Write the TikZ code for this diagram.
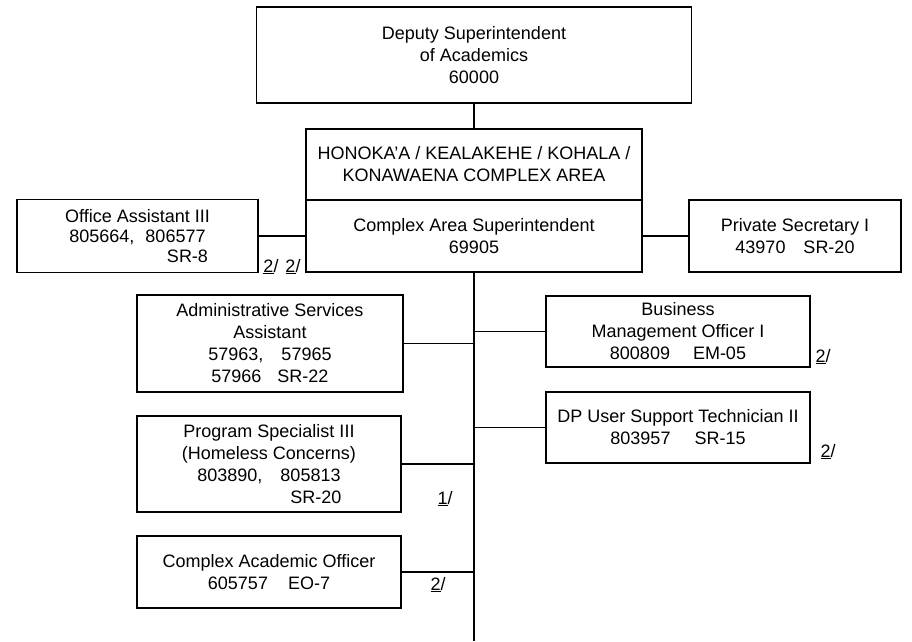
\documentclass[tikz,border=0pt]{standalone}
\usepackage{fontspec}
\setmainfont{Liberation Sans}
\usetikzlibrary{positioning}

\begin{document}
\begin{tikzpicture}[
  x=1pt, y=-1pt,
  box/.style={draw, line width=1.8pt, outer sep=0pt, inner sep=2pt, align=center, font=\fontsize{18}{22}\selectfont},
  link/.style={line width=1.8pt},
  note/.style={inner sep=0pt, anchor=base, font=\fontsize{18}{22}\selectfont}
]
\useasboundingbox (0,0) rectangle (912,641);

\node[box, minimum width=336pt, minimum height=71pt] (CA) at (474,164.5) {HONOKA’A / KEALAKEHE / KOHALA /\\KONAWAENA COMPLEX AREA};
\node[box, below=0pt of CA, minimum width=336pt, minimum height=72pt] (CAS) {Complex Area Superintendent\\69905};
\node[box, above=26pt of CA, minimum width=435pt, minimum height=96pt] (DS) {Deputy Superintendent\\of Academics\\60000};

\node[box, left=48pt of CAS, minimum width=241pt, minimum height=73pt, font=\fontsize{18}{20}\selectfont] (OA) {Office Assistant III\\805664,\hspace{11pt}806577\\\hspace*{100pt}SR-8};
\node[box, right=47pt of CAS, minimum width=212pt, minimum height=72pt] (PS) {Private Secretary I\\43970\quad SR-20};

\node[box, minimum width=266pt, minimum height=97pt] (ASA) at (270,343.5) {Administrative Services\\Assistant\\57963,\quad 57965\\57966\hspace{16pt}SR-22};
\node[box, minimum width=264pt, minimum height=96pt] (PSIII) at (269,464) {Program Specialist III\\(Homeless Concerns)\\803890,\quad 805813\\\hspace*{94pt}SR-20};
\node[box, minimum width=264pt, minimum height=72pt] (CAO) at (269,572) {Complex Academic Officer\\605757\hspace{20pt}EO-7};
\node[box, minimum width=264pt, minimum height=71pt] (BMO) at (678,331.5) {Business\\Management Officer I\\800809\hspace{23pt}EM-05};
\node[box, minimum width=264pt, minimum height=71pt] (DPUST) at (678,427.5) {DP User Support Technician II\\803957\hspace{24pt}SR-15};

\coordinate (bottom) at (474,641);

\draw[link] (DS) -- (CA);
\draw[link] (CAS.south) -- (bottom);
\draw[link] (OA) -- (CAS);
\draw[link] (CAS) -- (PS);
\draw[link] (ASA.east) -- (ASA.east -| bottom);
\draw[link] (PSIII.east) -- (PSIII.east -| bottom);
\draw[link] (CAO.east) -- (CAO.east -| bottom);
\draw[link] (BMO.west) -- (BMO.west -| bottom);
\draw[link] (DPUST.west) -- (DPUST.west -| bottom);

\node[note] (n1) at (282,272) {\underline{2}/\hspace{7pt}\underline{2}/};
\node[note] (n2) at (823,362) {\underline{2}/};
\node[note] (n3) at (828,457) {\underline{2}/};
\node[note] (n4) at (445,504) {\underline{1}/};
\node[note] (n5) at (438,590) {\underline{2}/};
\end{tikzpicture}
\end{document}
